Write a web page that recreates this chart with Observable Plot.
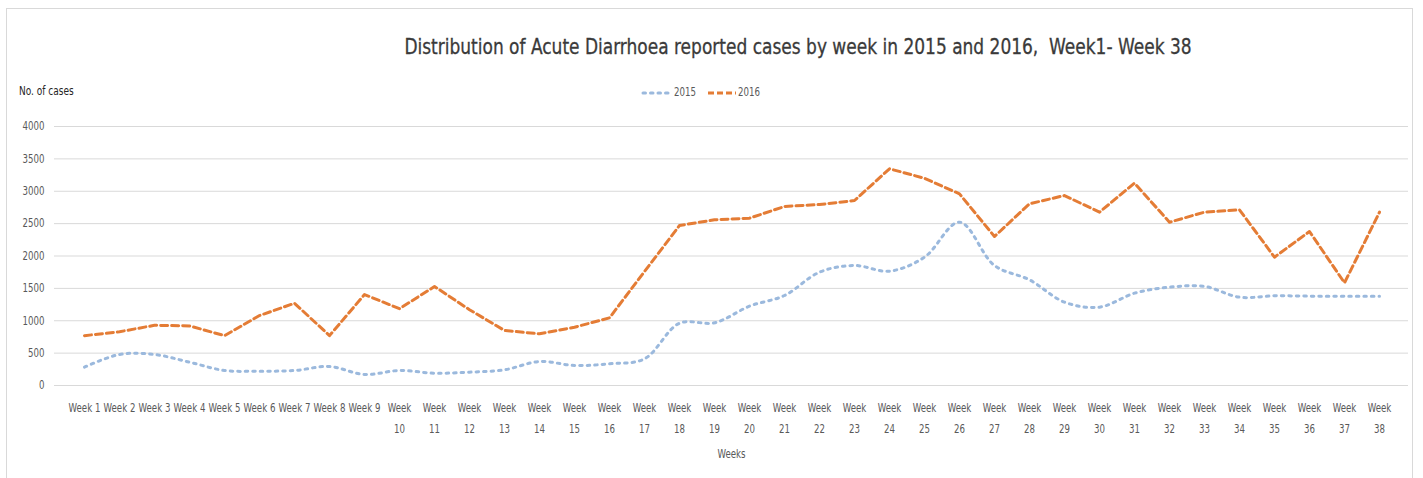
<!DOCTYPE html>
<html><head><meta charset="utf-8">
<script src="https://cdn.jsdelivr.net/npm/d3@7"></script>
<script src="https://cdn.jsdelivr.net/npm/@observablehq/plot@0.6"></script>
<style>
body{margin:0;background:#fff;font-family:"DejaVu Sans Condensed",sans-serif;font-stretch:condensed;}
#root{position:relative;width:1423px;height:478px;overflow:hidden;}
#frame{position:absolute;left:6px;top:8px;width:1405px;height:490px;border:1px solid #d9d9d9;}
#title{position:absolute;left:298px;width:1000px;top:34px;text-align:center;font-size:22px;color:#3a3a3a;white-space:pre;transform:scaleX(0.86);transform-origin:500px 0;-webkit-text-stroke:0.3px #3a3a3a;}
.sx{position:absolute;white-space:pre;transform:scaleX(0.8);transform-origin:0 0;}
#ylab{left:19px;top:83px;font-size:12.5px;color:#262626;}
.legt{top:85px;font-size:12px;color:#595959;}
#chart{position:absolute;left:0;top:100px;}
</style></head>
<body><div id="root">
<div id="frame"></div>
<div id="title">Distribution of Acute Diarrhoea reported cases by week in 2015 and 2016,  Week1- Week 38</div>
<div id="ylab" class="sx">No. of cases</div>
<div id="legend"></div>
<div id="chart"></div>
</div>
<script>
const weeks = ["Week 1","Week 2","Week 3","Week 4","Week 5","Week 6","Week 7","Week 8","Week 9","Week 10",
"Week 11","Week 12","Week 13","Week 14","Week 15","Week 16","Week 17","Week 18","Week 19","Week 20",
"Week 21","Week 22","Week 23","Week 24","Week 25","Week 26","Week 27","Week 28","Week 29","Week 30",
"Week 31","Week 32","Week 33","Week 34","Week 35","Week 36","Week 37","Week 38"];
const cases2015 = [283,479,479,360,232,221,232,293,170,232,190,206,242,371,309,335,412,962,968,1225,
1390,1750,1853,1766,1982,2522,1853,1632,1287,1210,1426,1518,1530,1364,1385,1380,1380,1380];
const cases2016 = [770,830,930,920,770,1080,1270,770,1405,1186,1529,1170,850,798,900,1045,1760,2471,2559,2584,
2765,2795,2857,3347,3200,2960,2301,2806,2934,2677,3125,2522,2677,2713,1982,2378,1586,2677];
const seriesNames = ["2015","2016"];
const yTicks = [0,500,1000,1500,2000,2500,3000,3500,4000];

const colors = {"2015":"#9BB9DD","2016":"#E47C35"};
const rows = [];
weeks.forEach((w,i)=>{rows.push({week:w,year:"2015",v:cases2015[i]});rows.push({week:w,year:"2016",v:cases2016[i]});});

const plot = Plot.plot({
  width:1423, height:378,
  marginTop:26, marginBottom:93, marginLeft:54, marginRight:15,
  style:{fontFamily:'"DejaVu Sans Condensed",sans-serif',fontSize:"12px",color:"#595959",background:"transparent"},
  x:{type:"point",domain:weeks,padding:0.5},
  y:{domain:[0,4000]},
  marks:[
    Plot.gridY(yTicks,{stroke:"#d9d9d9",strokeOpacity:1,strokeWidth:1}),
    Plot.axisY(yTicks,{tickSize:0,tickPadding:10,label:null,fontSize:12,tickFormat:d3.format("d")}),
    Plot.axisX({tickSize:0,tickPadding:12,label:"Weeks",labelArrow:"none",labelAnchor:"center",labelOffset:72,lineHeight:1.75,fontSize:12,
      tickFormat:d=>d.length>6?d.replace(" ","\n"):d}),
    Plot.line(rows.filter(d=>d.year==="2015"),{x:"week",y:"v",stroke:colors["2015"],strokeWidth:3,strokeDasharray:"2.5,5",strokeLinecap:"round",curve:"catmull-rom"}),
    Plot.line(rows.filter(d=>d.year==="2016"),{x:"week",y:"v",stroke:colors["2016"],strokeWidth:3,strokeDasharray:"7,4"})
  ]
});
// condense all axis text horizontally (reference uses a narrow face)
plot.querySelectorAll("g[aria-label$='axis tick label'] text, g[aria-label$='axis label'] text").forEach(t=>{
  const tr=t.getAttribute("transform")||"";
  t.setAttribute("transform",tr+" scale(0.8,1)");
});
document.getElementById("chart").appendChild(plot);

const root = document.getElementById("legend");
const legendPos = {"2015":[641,674],"2016":[706,738]};
seriesNames.forEach(s=>{
  const ns="http://www.w3.org/2000/svg";
  const svg=document.createElementNS(ns,"svg");
  svg.setAttribute("width",32);svg.setAttribute("height",8);
  svg.style.position="absolute";svg.style.left=legendPos[s][0]+"px";svg.style.top="89px";
  const l=document.createElementNS(ns,"line");
  l.setAttribute("x1",2);l.setAttribute("x2",30);l.setAttribute("y1",4);l.setAttribute("y2",4);
  l.setAttribute("stroke",colors[s]);l.setAttribute("stroke-width",3);
  if(s==="2015"){l.setAttribute("stroke-dasharray","2.5,5");l.setAttribute("stroke-linecap","round");}
  else l.setAttribute("stroke-dasharray","6,3");
  svg.appendChild(l);
  root.appendChild(svg);
  const t=document.createElement("div");t.className="sx legt";t.style.left=legendPos[s][1]+"px";t.textContent=s;root.appendChild(t);
});
</script>
</body></html>
